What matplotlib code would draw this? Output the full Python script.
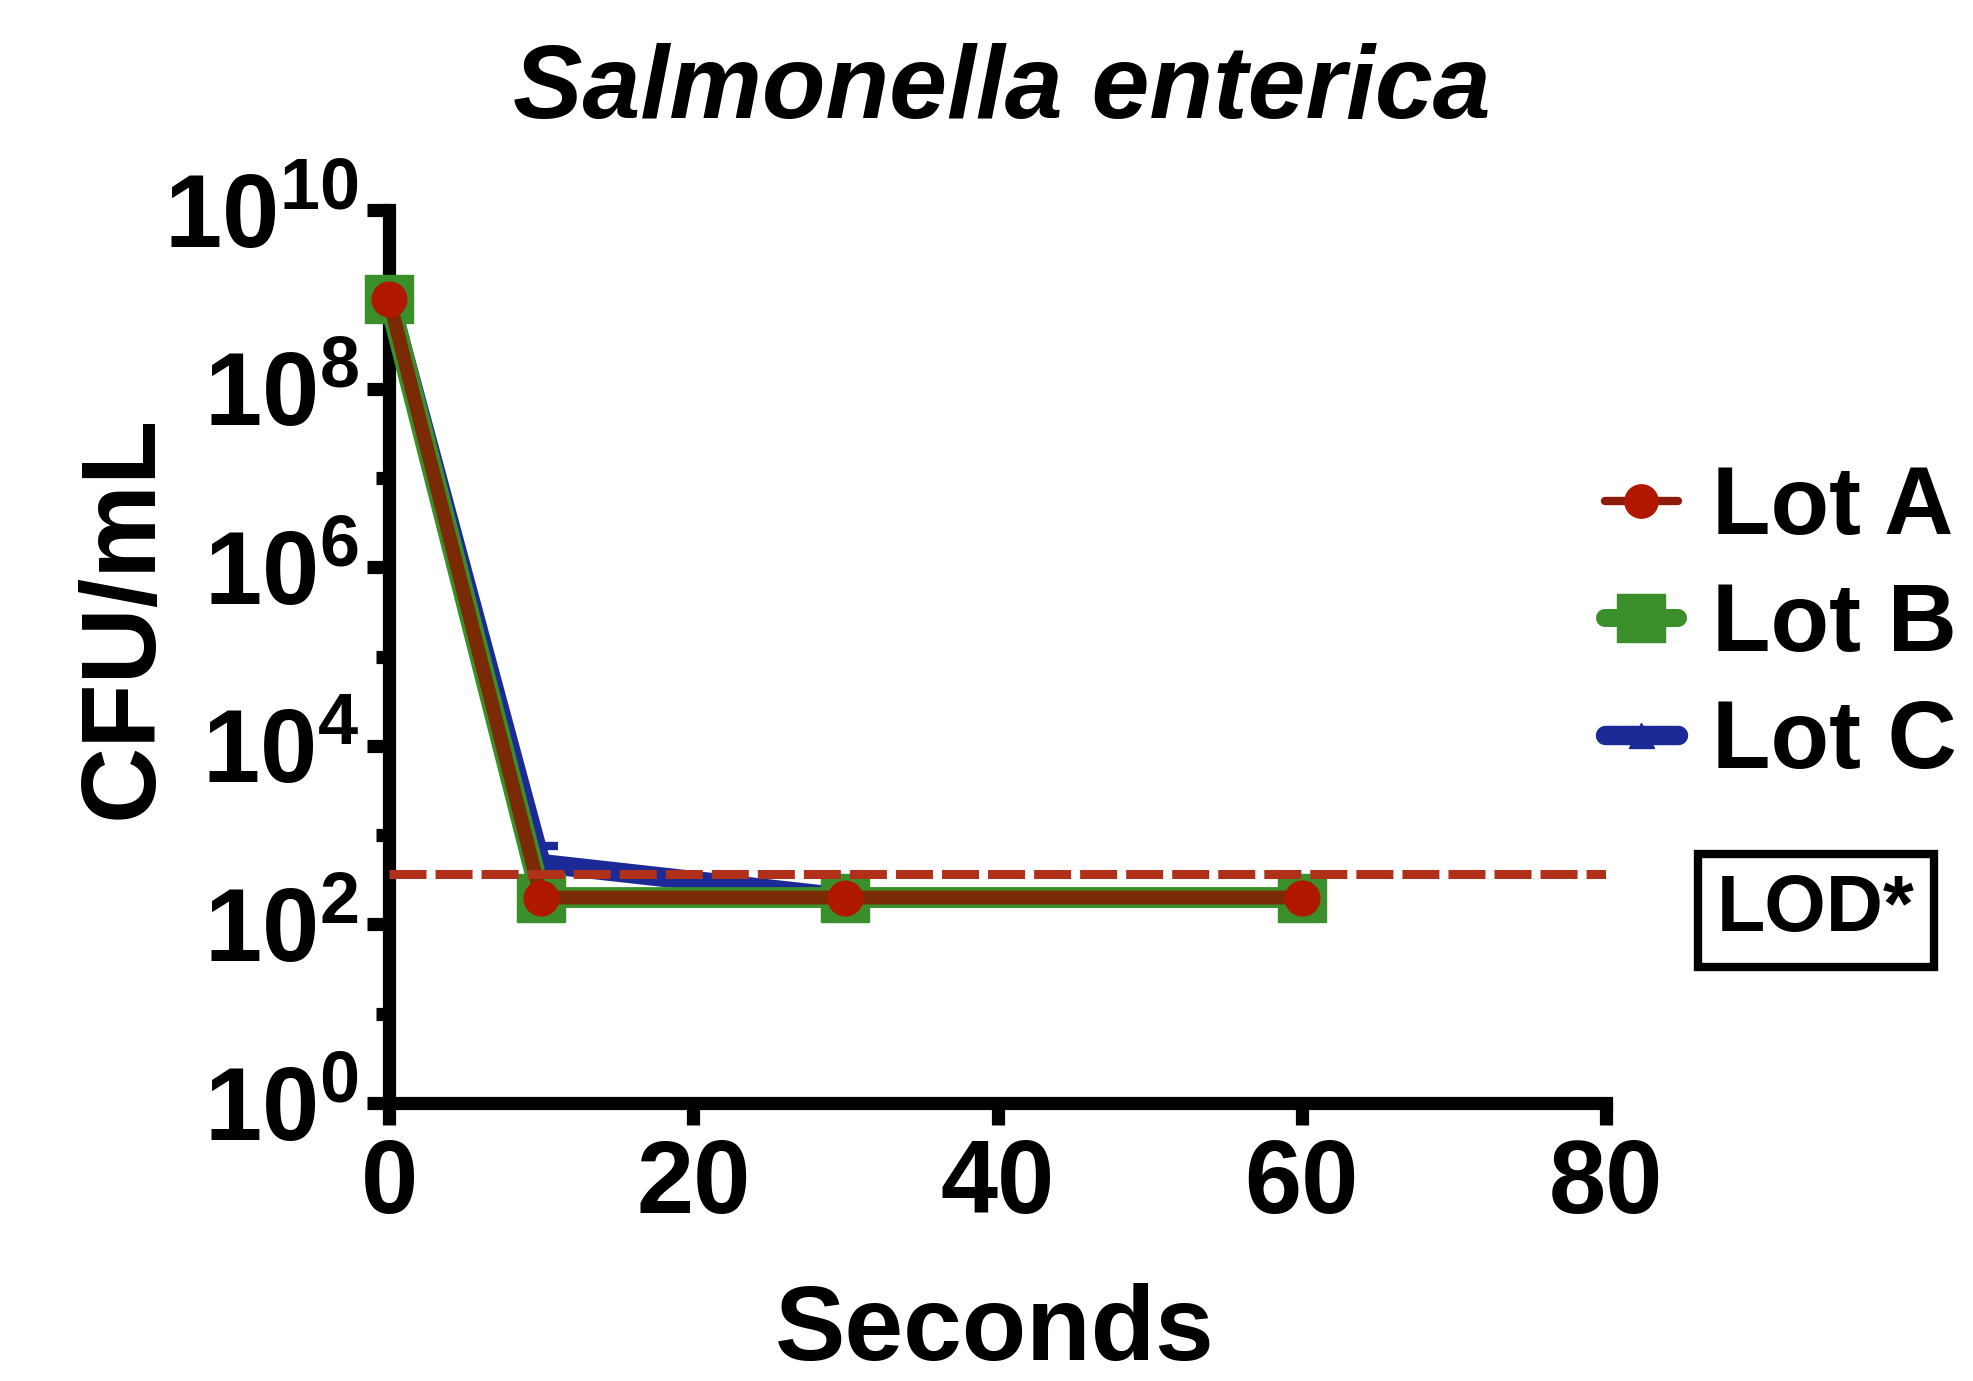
import matplotlib
matplotlib.use("Agg")
import matplotlib.pyplot as plt
from matplotlib.lines import Line2D
import numpy as np

# time points (seconds) and counts (CFU/mL) per lot
SECONDS = [0, 10, 30, 60]
LOT_A = [1.0e9, 2.0e2, 2.0e2, 2.0e2]
LOT_B = [1.0e9, 2.0e2, 2.0e2, 2.0e2]
LOT_C = [1.0e9, 4.8e2, 2.0e2, 2.0e2]
LOT_C_ERR_UP = [0, 2.8e2, 0, 0]
LOD = 3.7e2

X_TICKS = [0, 20, 40, 60, 80]
Y_MAJOR = [0, 2, 4, 6, 8, 10]
Y_MINOR = [1, 3, 5, 7, 9]

plt.rcParams["font.family"] = ["Liberation Sans", "DejaVu Sans"]
plt.rcParams["font.weight"] = "bold"
plt.rcParams["mathtext.fontset"] = "custom"
plt.rcParams["mathtext.rm"] = "Liberation Sans:bold"
plt.rcParams["mathtext.bf"] = "Liberation Sans:bold"
plt.rcParams["mathtext.it"] = "Liberation Sans:italic:bold"

COL_A_LINE, COL_A_MARK = "#7A2A04", "#B01800"
COL_A_LEG = "#8C1C08"
COL_B = "#3A8F2A"
COL_C = "#1B2A96"
COL_LOD = "#B0301A"

fig = plt.figure(figsize=(19.73, 13.81), dpi=100)
ax = fig.add_axes([0.1972, 0.2013, 0.6168, 0.6466])

ax.errorbar(SECONDS, LOT_C, yerr=[np.zeros(len(LOT_C_ERR_UP)), LOT_C_ERR_UP],
            fmt="none", ecolor=COL_C, elinewidth=6, capsize=12, capthick=6,
            zorder=3, clip_on=False)
ax.plot(SECONDS, LOT_C, color=COL_C, lw=14, marker="^", markersize=20,
        solid_capstyle="round", zorder=3, clip_on=False)
ax.plot(SECONDS, LOT_B, color=COL_B, lw=15, marker="s", markersize=34,
        solid_capstyle="round", zorder=4, clip_on=False)
ax.plot(SECONDS, LOT_A, color=COL_A_LINE, lw=10, marker="o", markersize=25,
        markerfacecolor=COL_A_MARK, markeredgecolor=COL_A_MARK,
        solid_capstyle="round", zorder=5, clip_on=False)

ax.axhline(LOD, color=COL_LOD, lw=6.5, dashes=(4.1, 1.0), zorder=6)

ax.set_yscale("log")
ax.set_ylim(1, 1e10)
ax.set_xlim(0, 80)
ax.set_xticks(X_TICKS)
ax.set_xticklabels([str(v) for v in X_TICKS])
ax.set_yticks([10.0 ** p for p in Y_MAJOR])
ax.set_yticklabels([r"$10^{%d}$" % p for p in Y_MAJOR])
ax.set_yticks([10.0 ** p for p in Y_MINOR], minor=True)
ax.set_yticklabels([], minor=True)
ax.tick_params(axis="both", which="major", length=16, width=9.5, labelsize=74, direction="out")
ax.tick_params(axis="y", which="minor", length=9.5, width=9.5, direction="out")
ax.tick_params(axis="x", which="minor", length=0)
ax.tick_params(axis="y", pad=6)
ax.tick_params(axis="x", pad=9)

for s in ["top", "right"]:
    ax.spines[s].set_visible(False)
for s in ["left", "bottom"]:
    ax.spines[s].set_linewidth(9.5)
    ax.spines[s].set_capstyle("projecting")

ax.set_ylabel("CFU/mL", fontsize=76, fontweight="bold", va="center")
ax.yaxis.set_label_coords(-0.218, 0.544)
ax.set_xlabel("Seconds", fontsize=76, fontweight="bold", va="center")
ax.xaxis.set_label_coords(0.498, -0.257)

fig.text(0.508, 0.934, "Salmonella enterica", fontsize=75, fontweight="bold",
         fontstyle="italic", ha="center", va="center")

# legend keys as drawn in the reference (thin line for Lot A, no error bar)
handles = [
    Line2D([], [], color=COL_A_LEG, lw=6, marker="o", markersize=24,
           markerfacecolor=COL_A_MARK, markeredgecolor=COL_A_MARK, solid_capstyle="round"),
    Line2D([], [], color=COL_B, lw=13, marker="s", markersize=34, solid_capstyle="round"),
    Line2D([], [], color=COL_C, lw=14, marker="^", markersize=18, solid_capstyle="round"),
]
fig.legend(handles, ["Lot A", "Lot B", "Lot C"], loc="center left",
           bbox_to_anchor=(0.8135, 0.5465), frameon=False,
           prop={"size": 69, "weight": "bold"}, handlelength=0.76,
           handletextpad=0.36, labelspacing=0.28, borderpad=0, borderaxespad=0)

fig.text(0.9205, 0.3406, "LOD*", fontsize=57, fontweight="bold", ha="center", va="center",
         bbox=dict(boxstyle="square,pad=0.24", fc="white", ec="black", lw=6))

fig.savefig("out.png", dpi=100)
